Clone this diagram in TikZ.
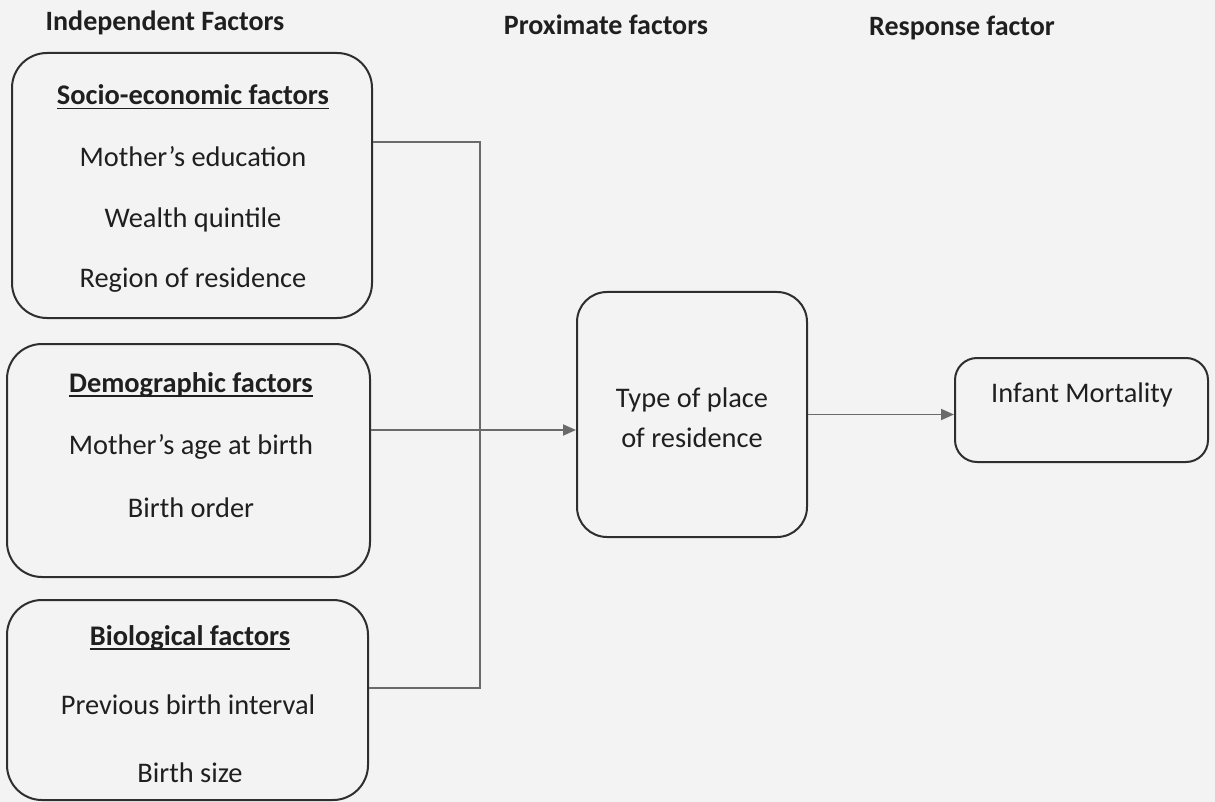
\documentclass[tikz,border=0pt]{standalone}
\usepackage{fontspec}
\setmainfont{Carlito}
\usetikzlibrary{arrows.meta}
\newcommand\myul[1]{\setbox0\hbox{#1}\rlap{\rule[-4.5pt]{\wd0}{1.7pt}}\box0}
\definecolor{pagebg}{HTML}{F3F3F3}
\definecolor{boxline}{HTML}{2E2E2E}
\definecolor{connline}{HTML}{6A6A6A}
\tikzset{
  fbox/.style={draw=boxline, line width=2pt, rounded corners=35pt, inner sep=0pt},
  txt/.style={font=\fontsize{28.4}{40}\selectfont, text=black!88, inner sep=0pt},
  btxt/.style={font=\fontsize{28.4}{40}\selectfont\bfseries, text=black!88, inner sep=0pt},
  head/.style={font=\fontsize{28}{32}\selectfont\bfseries, text=black!88, inner sep=0pt},
  conn/.style={draw=connline, line width=1.8pt},
  arr/.style={conn, -{Triangle[length=13pt,width=11pt]}}
}
\begin{document}
\begin{tikzpicture}[x=1pt,y=-1pt]
\fill[pagebg] (0,0) rectangle (1215,802);
\useasboundingbox (0,0) rectangle (1215,802);
% headers
\node[head] (h1) at (165,23) {Independent Factors};
\node[head] (h2) at (606,25) {Proximate factors};
\node[head] (h3) at (962,28) {Response factor};
% boxes
\node[fbox, minimum width=360pt, minimum height=265pt] (se) at (192,185.5) {};
\node[fbox, minimum width=363pt, minimum height=233pt] (dem) at (188.5,460.5) {};
\node[fbox, minimum width=361pt, minimum height=200pt] (bio) at (187.5,700) {};
\node[fbox, rounded corners=30pt, minimum width=230pt, minimum height=245pt] (tpr) at (692,414.5) {};
\node[fbox, rounded corners=22pt, minimum width=253pt, minimum height=104pt] (im) at (1081.5,410) {};
% texts
\node[btxt] (se1) at (193,97) {\myul{Socio-economic factors}};
\node[txt] (se2) at (193,157) {Mother’s education};
\node[txt] (se3) at (193,220) {Wealth quintile};
\node[txt] (se4) at (193,280) {Region of residence};
\node[btxt] (de1) at (191,385) {\myul{Demographic factors}};
\node[txt] (de2) at (191,447) {Mother’s age at birth};
\node[txt] (de3) at (191,508) {Birth order};
\node[btxt] (bi1) at (190,638) {\myul{Biological factors}};
\node[txt] (bi2) at (188,705) {Previous birth interval};
\node[txt] (bi3) at (190,773) {Birth size};
\node[txt, align=center] (tp) at (692,418) {Type of place\\of residence};
\node[txt] (imt) at (1082,395) {Infant Mortality};
% connectors
\coordinate (b1) at (480,142);
\coordinate (b2) at (480,688);
\coordinate (a1) at (480,430);
\draw[conn] (se.east |- b1) -- (b1) -- (b2) -- (bio.east |- b2);
\draw[arr] (dem.east |- a1) -- (tpr.west |- a1);
\draw[arr] (tpr.east) -- (im.west |- tpr.east);
\end{tikzpicture}
\end{document}
